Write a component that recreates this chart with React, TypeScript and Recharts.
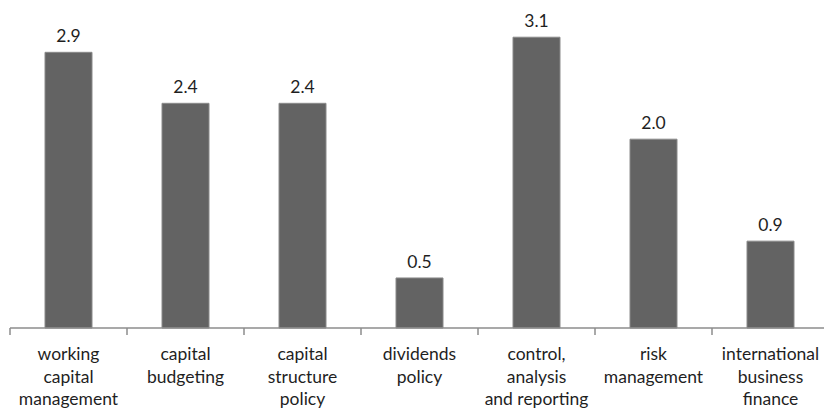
import { Bar, BarChart, LabelList, XAxis, YAxis } from "recharts"

const categories = [
  "working\ncapital\nmanagement",
  "capital\nbudgeting",
  "capital\nstructure\npolicy",
  "dividends\npolicy",
  "control,\nanalysis\nand reporting",
  "risk\nmanagement",
  "international\nbusiness\nfinance",
]

const values = [2.92, 2.38, 2.38, 0.53, 3.08, 2.0, 0.92]

const data = categories.map((name, i) => ({ name, value: values[i] }))

const FONT = "Lato, 'Open Sans', sans-serif"
const BAND = 117

function CategoryTick(props: any) {
  const { x, y, payload } = props
  const lines = String(payload.value).split("\n")
  return (
    <g>
      <line
        x1={x - BAND / 2}
        x2={x - BAND / 2}
        y1={y - 8}
        y2={y - 1}
        stroke="#8c8c8c"
        strokeWidth={1.5}
      />
      <text
        x={x}
        y={y}
        textAnchor="middle"
        fill="#1f1f1f"
        fontSize={17.5}
        fontFamily={FONT}
      >
        {lines.map((line, i) => (
          <tspan key={i} x={x} dy={i === 0 ? 24 : 22.5}>
            {line}
          </tspan>
        ))}
      </text>
    </g>
  )
}

export default function App() {
  return (
    <div style={{ width: 824, height: 412, overflow: "hidden", background: "#fff" }}>
      <style>{`body{margin:0;overflow:hidden}`}</style>
      <BarChart
        width={830}
        height={412}
        data={data}
        margin={{ top: 7, right: 1, left: 10, bottom: 0 }}
        barSize={47}
      >
        <YAxis hide domain={[0, 3.4]} />
        <XAxis
          dataKey="name"
          height={84}
          interval={0}
          axisLine={{ stroke: "#8c8c8c", strokeWidth: 1.5 }}
          tickLine={false}
          tick={<CategoryTick />}
        />
        <Bar
          dataKey="value"
          fill="#636363"
          stroke="#8a8a8a"
          strokeWidth={1}
          isAnimationActive={false}
        >
          <LabelList
            dataKey="value"
            position="top"
            offset={10}
            fill="#1f1f1f"
            fontSize={17.5}
            fontFamily={FONT}
            formatter={(v: any) => Number(v).toFixed(1)}
          />
        </Bar>
      </BarChart>
    </div>
  )
}
